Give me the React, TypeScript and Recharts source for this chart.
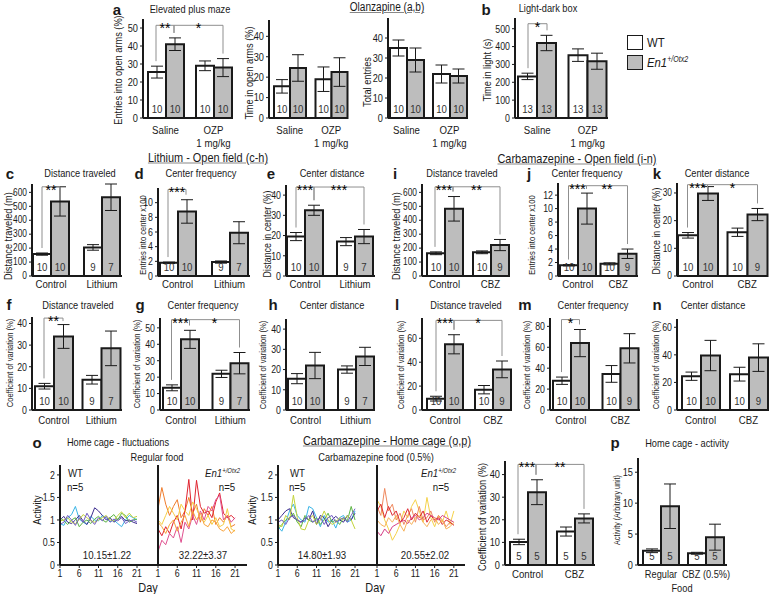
import React from "react";
import { Bar, BarChart, ErrorBar, LabelList, Line, LineChart, XAxis, YAxis } from "recharts";

const SANS = '"Liberation Sans", Arial, sans-serif';
const SQ = 0.84; // horizontal squeeze to mimic the condensed face of the original
const INK = "#1a1a1a";
const GREY = "#bdbdbd";
const BRACKET = "#8f8f8f";

// categories
const ozpCats = ["Saline", "OZP\n1 mg/kg"];
const liCats = ["Control", "Lithium"];
const cbzCats = ["Control", "CBZ"];
const foodCats = ["Regular", "CBZ (0.5%)"];

// bar values, order: [control WT, control En1, treated WT, treated En1]
const epmEntries = [25.5, 41, 29, 28];
const epmEntriesSem = [3.3, 3.5, 2.7, 5];
const epmTime = [15.5, 24.5, 19, 22.5];
const epmTimeSem = [3.3, 6.5, 6, 7];
const epmTotal = [35, 29, 22, 21];
const epmTotalSem = [4, 6, 4.5, 3.5];
const epmN = [10, 10, 10, 10];
const ldbLight = [233, 420, 352, 318];
const ldbLightSem = [18, 43, 35, 45];
const ldbN = [13, 13, 13, 13];

const liDist = [157, 535, 205, 565];
const liDistSem = [8, 105, 20, 95];
const liFreq = [1.8, 8.8, 1.9, 5.9];
const liFreqSem = [0.1, 1.6, 0.15, 1.5];
const liCenter = [19.5, 32.5, 17, 19.5];
const liCenterSem = [2, 2.5, 2, 3.5];
const liDistCv = [11, 34, 14, 28.5];
const liDistCvSem = [1.3, 5.5, 2, 8];
const liFreqCv = [13.5, 43, 22, 28.5];
const liFreqCvSem = [1.8, 5.5, 2.2, 6.5];
const liCenterCv = [15.5, 22, 20, 26.5];
const liCenterCvSem = [2.5, 6.5, 1.8, 4.5];
const liN = [10, 10, 9, 7];

const cbzDist = [163, 482, 170, 222];
const cbzDistSem = [10, 88, 10, 40];
const cbzFreq = [1.6, 10, 1.8, 3.3];
const cbzFreqSem = [0.1, 2.3, 0.15, 0.7];
const cbzCenter = [14.7, 29.8, 15.8, 22.2];
const cbzCenterSem = [1, 2.5, 1.5, 2.2];
const cbzDistCv = [9.5, 55, 17, 34];
const cbzDistCvSem = [2, 8, 3.5, 7];
const cbzFreqCv = [28, 64, 34.5, 59];
const cbzFreqCvSem = [3.5, 13, 8, 14];
const cbzCenterCv = [24.5, 39.5, 26, 38];
const cbzCenterCvSem = [3, 11, 5, 10];
const cbzN = [10, 10, 10, 9];

const homeCv = [10.2, 32.2, 14.8, 20.6];
const homeCvSem = [1.2, 5.5, 2, 2];
const homeActivity = [2.3, 9.5, 1.9, 4.5];
const homeActivitySem = [0.3, 3.6, 0.15, 2.1];
const homeN = [5, 5, 5, 5];

// tick labels
const t50 = [0, 10, 20, 30, 40, 50];
const t40 = [0, 10, 20, 30, 40];
const t30 = [0, 10, 20, 30];
const t500 = [0, 100, 200, 300, 400, 500];
const t600 = [0, 100, 200, 300, 400, 500, 600];
const t10 = [0, 2, 4, 6, 8, 10];
const t12 = [0, 2, 4, 6, 8, 10, 12];
const t60 = [0, 20, 40, 60];
const t80 = [0, 20, 40, 60, 80];
const t15 = [0, 5, 10, 15];
const dayTicks = [1, 6, 11, 16, 21];
const activityTicks = [0, 0.5, 1, 1.5, 2];

// home cage daily activity, 5 mice per group
const days = [1, 2, 3, 4, 5, 6, 7, 8, 9, 10, 11, 12, 13, 14, 15, 16, 17, 18, 19, 20, 21];
const regularWt = [
  [0.92, 0.88, 1.05, 1.12, 1.3, 1.02, 0.95, 0.9, 1.08, 1.0, 0.98, 1.1, 1.05, 0.96, 1.0, 0.92, 0.85, 1.0, 1.1, 1.05, 1.0],
  [1.0, 1.08, 0.95, 0.92, 1.0, 1.1, 0.98, 0.9, 1.05, 1.27, 1.2, 1.1, 1.0, 1.05, 0.95, 1.02, 1.08, 0.98, 1.0, 0.95, 0.92],
  [1.05, 0.98, 0.9, 1.0, 1.05, 0.85, 0.95, 1.0, 0.92, 1.02, 1.08, 1.0, 0.95, 1.05, 1.12, 1.0, 1.15, 1.1, 0.95, 1.0, 1.02],
  [0.98, 1.0, 1.05, 0.95, 0.92, 1.0, 1.12, 1.05, 0.98, 0.95, 1.0, 1.05, 1.1, 1.0, 0.98, 1.1, 1.18, 1.05, 1.15, 1.05, 1.08],
  [0.9, 0.95, 1.1, 1.0, 0.88, 1.05, 0.95, 1.15, 1.0, 0.9, 1.05, 0.98, 1.08, 0.95, 1.02, 0.98, 1.05, 0.92, 0.98, 1.0, 0.95],
];
const regularEn1 = [
  [1.25, 1.72, 1.35, 1.1, 1.3, 1.45, 1.05, 1.2, 1.5, 1.15, 1.35, 0.95, 1.25, 1.1, 1.3, 0.9, 1.05, 0.95, 1.1, 0.85, 0.9],
  [0.8, 0.65, 0.85, 0.7, 0.95, 1.1, 0.8, 1.2, 1.9, 1.0, 1.88, 1.3, 1.15, 1.2, 1.05, 1.4, 1.6, 1.15, 1.05, 1.1, 1.02],
  [1.0, 0.9, 1.1, 1.3, 1.15, 1.0, 1.35, 1.2, 1.1, 1.4, 1.25, 1.05, 0.95, 1.1, 0.9, 1.05, 0.85, 0.9, 1.25, 0.8, 0.75],
  [0.3, 0.55, 0.45, 0.7, 0.6, 0.85, 0.5, 0.95, 0.8, 1.1, 0.9, 1.2, 1.0, 1.3, 1.2, 1.45, 1.55, 1.0, 1.1, 0.95, 1.05],
  [0.95, 0.85, 0.7, 0.9, 1.0, 0.75, 0.95, 1.1, 0.85, 1.2, 1.0, 1.15, 0.9, 0.85, 1.0, 0.95, 0.8, 0.75, 0.85, 0.7, 0.78],
];
const cbzWt = [
  [0.85, 0.75, 0.95, 1.2, 1.35, 1.1, 1.0, 0.95, 1.3, 1.25, 1.05, 0.85, 1.1, 0.95, 1.0, 0.82, 1.05, 1.1, 0.95, 1.0, 1.2],
  [1.0, 1.1, 1.2, 1.25, 1.05, 1.0, 0.95, 1.05, 1.0, 1.2, 0.9, 1.1, 1.05, 0.85, 1.0, 1.08, 1.0, 0.95, 1.1, 1.0, 1.15],
  [0.8, 0.9, 1.0, 1.05, 1.15, 0.95, 0.85, 1.1, 1.0, 0.95, 1.05, 0.9, 1.0, 1.15, 0.95, 1.0, 0.9, 1.05, 0.98, 1.3, 1.0],
  [0.9, 0.85, 1.1, 1.0, 1.55, 1.05, 0.8, 0.78, 1.0, 1.1, 0.9, 1.0, 1.2, 1.0, 0.9, 0.95, 1.05, 1.0, 1.1, 1.0, 0.8],
  [0.95, 1.0, 0.9, 1.05, 1.1, 1.0, 0.95, 1.0, 1.1, 0.95, 1.0, 1.05, 0.9, 1.05, 1.1, 0.95, 1.0, 1.05, 0.95, 1.1, 1.25],
];
const cbzEn1 = [
  [1.45, 1.3, 1.0, 0.8, 0.55, 0.7, 0.9, 1.2, 1.05, 1.3, 1.45, 1.2, 0.95, 1.5, 1.05, 0.85, 1.1, 0.95, 1.2, 0.9, 1.2],
  [1.3, 1.1, 1.7, 1.2, 1.35, 1.0, 1.15, 0.9, 1.1, 1.25, 0.95, 1.3, 1.0, 1.05, 1.2, 0.95, 1.1, 1.0, 0.85, 0.95, 0.9],
  [1.2, 1.35, 1.05, 1.3, 1.1, 1.2, 0.95, 1.05, 1.25, 1.0, 1.15, 1.05, 1.2, 0.95, 1.1, 1.0, 1.05, 0.9, 1.0, 0.95, 0.88],
  [0.75, 0.65, 0.8, 0.7, 0.85, 0.9, 0.95, 1.0, 0.92, 1.05, 1.1, 1.0, 1.05, 1.15, 1.1, 1.05, 1.0, 1.1, 1.05, 1.0, 0.95],
  [1.0, 0.9, 0.85, 1.05, 0.95, 1.1, 0.9, 0.75, 1.0, 0.9, 1.05, 1.1, 0.95, 0.85, 1.0, 1.05, 0.9, 1.0, 0.8, 0.85, 0.95],
];
const wtColors = ["#38b4e6", "#3d2d8f", "#5db546", "#c3d43b", "#6f5ac2"];
const en1Colors = ["#f07c2c", "#e0232f", "#f5cf45", "#e0508f", "#f9a43c"];
const cbzEn1Colors = ["#f5d24a", "#ef8a60", "#dd2a35", "#d63d86", "#f7b25a"];

type Sig = { from: number; to: number; text: string };
type Spec = {
  cats: string[];
  means: number[];
  sem: number[];
  ns: number[];
  ticks: number[];
  max: number;
  x0: number;
  x1: number;
  top: number;
  base: number;
  barL: number;
  barR: number;
  gap: number;
  sig?: Sig[];
  sigAt?: number;
  tickFont: number;
  catDy: number;
  catFont?: number;
};

function catTick(dy: number, size: number) {
  return (props: any) => {
    const lines = String(props.payload?.value ?? "").split("\n");
    return (
      <g>
        {lines.map((line, i) => (
          <text key={i} transform={`translate(${props.x},${props.y + dy + i * (size + 1)}) scale(${SQ},1)`}
            textAnchor="middle" dominantBaseline="central" fontSize={size} fontFamily={SANS} fill={INK}>
            {line}
          </text>
        ))}
      </g>
    );
  };
}

function numTick(size: number) {
  return (props: any) => (
    <text transform={`translate(${props.x},${props.y}) scale(${SQ},1)`} textAnchor="end"
      dominantBaseline="central" fontSize={size} fontFamily={SANS} fill={INK}>
      {props.payload?.value}
    </text>
  );
}

function dayTick(props: any) {
  return (
    <text transform={`translate(${props.x},${props.y}) scale(${SQ},1)`} textAnchor="middle" dy="0.8em"
      fontSize={10.5} fontFamily={SANS} fill={INK}>
      {props.payload?.value}
    </text>
  );
}

function BarPanel({ s }: { s: Spec }) {
  const yw = 30;
  const mt = 14;
  const mr = 24;
  const xh = 34;
  const half = s.gap / 2;
  const rows = s.cats.map((cat, i) => ({
    cat,
    wt: s.means[2 * i],
    en: s.means[2 * i + 1],
    wtSem: s.sem[2 * i],
    enSem: s.sem[2 * i + 1],
    wtN: s.ns[2 * i],
    enN: s.ns[2 * i + 1],
  }));

  const nLabel = (props: any) => {
    const vb = props.viewBox ?? props;
    return (
      <text transform={`translate(${vb.x + vb.width / 2},${vb.y + vb.height - 9}) scale(${SQ},1)`}
        textAnchor="middle" dominantBaseline="central" fontSize={11.5} fontFamily={SANS} fill="#333">
        {props.value}
      </text>
    );
  };

  // brackets are drawn from the treated En1 bar, using its own geometry for the scale
  const sigLabel = (props: any) => {
    if (!s.sig || props.index !== 1) return null;
    const vb = props.viewBox ?? props;
    const w = vb.width;
    const base = vb.y + vb.height;
    const ppu = vb.height / s.means[3];
    const band = 2 * w + s.gap;
    const c3 = vb.x + w / 2;
    const cx = [c3 - band - w, c3 - band, c3 - w, c3];
    const py = (v: number) => base - v * ppu;
    const ly = py(s.sigAt ?? s.max);
    const drop = (i: number) => Math.max(ly + 3, py(s.means[i] + s.sem[i]) - 5);
    return (
      <g>
        {s.sig.map((g, k) => (
          <g key={k}>
            <path d={`M${cx[g.from]},${drop(g.from)}V${ly}H${cx[g.to]}V${drop(g.to)}`} fill="none"
              stroke={BRACKET} strokeWidth={1} />
            <text x={(cx[g.from] + cx[g.to]) / 2} y={ly + 8} textAnchor="middle" fontSize={14}
              fontFamily={SANS} fill="#000">
              {g.text}
            </text>
          </g>
        ))}
      </g>
    );
  };

  return (
    <div style={{ position: "absolute", left: s.x0 - yw, top: s.top - mt }}>
      <BarChart width={yw + s.x1 - s.x0 + mr} height={mt + s.base - s.top + xh} data={rows}
        margin={{ top: mt, right: mr, bottom: 0, left: 0 }} barGap={0} barCategoryGap={half}>
        <XAxis dataKey="cat" height={xh} padding={{ left: s.barL - half - s.x0, right: s.x1 - s.barR - half }}
          axisLine={{ stroke: INK, strokeWidth: 2 }} tickLine={false} tickSize={0} tickMargin={0} interval={0}
          tick={catTick(s.catDy, s.catFont ?? 11.5)} />
        <YAxis width={yw} type="number" domain={[0, s.max]} ticks={s.ticks} interval={0}
          axisLine={{ stroke: INK, strokeWidth: 2 }} tickLine={{ stroke: INK }} tickSize={3} tickMargin={2}
          tick={numTick(s.tickFont)} />
        <Bar dataKey="wt" fill="#fff" stroke={INK} strokeWidth={2} isAnimationActive={false}>
          <ErrorBar dataKey="wtSem" width={6} stroke={INK} strokeWidth={1} />
          <LabelList dataKey="wtN" content={nLabel} />
        </Bar>
        <Bar dataKey="en" fill={GREY} stroke={INK} strokeWidth={2} isAnimationActive={false}>
          <ErrorBar dataKey="enSem" width={6} stroke={INK} strokeWidth={1} />
          <LabelList dataKey="enN" content={nLabel} />
          <LabelList dataKey="en" content={sigLabel} />
        </Bar>
      </BarChart>
    </div>
  );
}

function TracePanel({ x0, width, end, series, colors, labels }: {
  x0: number; width: number; end: number; series: number[][]; colors: string[]; labels: boolean;
}) {
  const yw = 24;
  const mt = 6;
  const xh = 24;
  const top = 465;
  const base = 565;
  const rows = days.map((day, i) => {
    const r: Record<string, number> = { day };
    series.forEach((sv, k) => (r["s" + k] = sv[i]));
    return r;
  });
  return (
    <div style={{ position: "absolute", left: x0 - yw, top: top - mt }}>
      <LineChart width={yw + width} height={mt + base - top + xh} data={rows}
        margin={{ top: mt, right: 0, bottom: 0, left: 0 }}>
        <XAxis type="number" dataKey="day" domain={[1, end]} ticks={dayTicks} interval={0} height={xh}
          axisLine={{ stroke: INK, strokeWidth: 2 }} tickLine={{ stroke: INK }} tickSize={3} tickMargin={1}
          tick={dayTick} />
        <YAxis width={yw} type="number" domain={[0, 2.22]} ticks={activityTicks} interval={0}
          axisLine={{ stroke: INK, strokeWidth: 2 }} tickLine={labels ? { stroke: INK } : false} tickSize={3}
          tickMargin={2} tick={labels ? numTick(10.5) : false} />
        {series.map((_, k) => (
          <Line key={k} type="linear" dataKey={"s" + k} stroke={colors[k]} strokeWidth={1} dot={false}
            isAnimationActive={false} />
        ))}
      </LineChart>
    </div>
  );
}

function Txt({ x, y, size = 11, rot = 0, anchor = "middle", bold = false, under = false, squeeze = SQ, children }: {
  x: number; y: number; size?: number; rot?: number; anchor?: string; bold?: boolean; under?: boolean;
  squeeze?: number; children: React.ReactNode;
}) {
  const tx = anchor === "start" ? "0%" : anchor === "end" ? "-100%" : "-50%";
  const ox = anchor === "start" ? "0%" : anchor === "end" ? "100%" : "50%";
  return (
    <div style={{
      position: "absolute", left: x, top: y,
      transform: `translate(${tx}, -50%) rotate(${rot}deg) scaleX(${squeeze})`, transformOrigin: `${ox} 50%`,
      fontSize: size, fontFamily: SANS, fontWeight: bold ? 700 : 400, whiteSpace: "nowrap", lineHeight: 1,
      color: INK, textDecoration: under ? "underline" : "none", textDecorationColor: "#888",
    }}>
      {children}
    </div>
  );
}

const En1 = () => (
  <span style={{ fontStyle: "italic" }}>
    En1<span style={{ fontSize: "0.62em", position: "relative", top: "-0.55em" }}>+/Otx2</span>
  </span>
);

const twoPair: Sig[] = [{ from: 0, to: 1, text: "***" }, { from: 1, to: 3, text: "**" }];

const panels: Spec[] = [
  { cats: ozpCats, means: epmEntries, sem: epmEntriesSem, ns: epmN, ticks: t50, max: 55, x0: 143, x1: 232, top: 19, base: 118, barL: 148, barR: 231, gap: 13, sig: [{ from: 0, to: 1, text: "**" }, { from: 1, to: 3, text: "*" }], sigAt: 51.5, tickFont: 11, catDy: 12 },
  { cats: ozpCats, means: epmTime, sem: epmTimeSem, ns: epmN, ticks: t40, max: 48, x0: 269, x1: 348, top: 20, base: 118, barL: 274, barR: 347, gap: 10, tickFont: 11, catDy: 12 },
  { cats: ozpCats, means: epmTotal, sem: epmTotalSem, ns: epmN, ticks: t40, max: 50, x0: 388, x1: 468, top: 18, base: 118, barL: 390, barR: 466, gap: 10, tickFont: 11, catDy: 12 },
  { cats: ozpCats, means: ldbLight, sem: ldbLightSem, ns: ldbN, ticks: t500, max: 560, x0: 515, x1: 608, top: 18, base: 118, barL: 518, barR: 607, gap: 12, sig: [{ from: 0, to: 1, text: "*" }], sigAt: 528, tickFont: 10.5, catDy: 12 },
  { cats: liCats, means: liDist, sem: liDistSem, ns: liN, ticks: t600, max: 660, x0: 32, x1: 122, top: 184, base: 276, barL: 33, barR: 120, gap: 15, sig: [{ from: 0, to: 1, text: "**" }], sigAt: 640, tickFont: 10, catDy: 8 },
  { cats: liCats, means: liFreq, sem: liFreqSem, ns: liN, ticks: t10, max: 12, x0: 158, x1: 250, top: 188, base: 276, barL: 160, barR: 247, gap: 17, sig: [{ from: 0, to: 1, text: "***" }], sigAt: 11.8, tickFont: 10.5, catDy: 8 },
  { cats: liCats, means: liCenter, sem: liCenterSem, ns: liN, ticks: t40, max: 45, x0: 286, x1: 375, top: 185, base: 276, barL: 287, barR: 373, gap: 14, sig: [{ from: 0, to: 1, text: "***" }, { from: 1, to: 3, text: "***" }], sigAt: 44, tickFont: 10.5, catDy: 8 },
  { cats: cbzCats, means: cbzDist, sem: cbzDistSem, ns: cbzN, ticks: t600, max: 660, x0: 422, x1: 510, top: 184, base: 276, barL: 427, barR: 508, gap: 11, sig: twoPair, sigAt: 640, tickFont: 10, catDy: 8 },
  { cats: cbzCats, means: cbzFreq, sem: cbzFreqSem, ns: cbzN, ticks: t12, max: 13.8, x0: 558, x1: 638, top: 183, base: 276, barL: 560, barR: 636, gap: 5, sig: twoPair, sigAt: 13.4, tickFont: 10.5, catDy: 8 },
  { cats: cbzCats, means: cbzCenter, sem: cbzCenterSem, ns: cbzN, ticks: t30, max: 33.6, x0: 677, x1: 768, top: 183, base: 276, barL: 678, barR: 767, gap: 10, sig: [{ from: 0, to: 1, text: "***" }, { from: 1, to: 3, text: "*" }], sigAt: 33, tickFont: 10, catDy: 8 },
  { cats: liCats, means: liDistCv, sem: liDistCvSem, ns: liN, ticks: t40, max: 43, x0: 32, x1: 122, top: 317, base: 410, barL: 35, barR: 120, gap: 10, sig: [{ from: 0, to: 1, text: "**" }], sigAt: 42.5, tickFont: 10.5, catDy: 10 },
  { cats: liCats, means: liFreqCv, sem: liFreqCvSem, ns: liN, ticks: t50, max: 56, x0: 160, x1: 250, top: 318, base: 410, barL: 163, barR: 248, gap: 14, sig: [{ from: 0, to: 1, text: "***" }, { from: 1, to: 3, text: "*" }], sigAt: 55, tickFont: 10.5, catDy: 10 },
  { cats: liCats, means: liCenterCv, sem: liCenterCvSem, ns: liN, ticks: t40, max: 45, x0: 286, x1: 375, top: 319, base: 410, barL: 288, barR: 373, gap: 15, tickFont: 10.5, catDy: 10 },
  { cats: cbzCats, means: cbzDistCv, sem: cbzDistCvSem, ns: cbzN, ticks: t60, max: 77, x0: 422, x1: 512, top: 318, base: 410, barL: 427, barR: 511, gap: 12, sig: [{ from: 0, to: 1, text: "***" }, { from: 1, to: 3, text: "*" }], sigAt: 75, tickFont: 10.5, catDy: 10 },
  { cats: cbzCats, means: cbzFreqCv, sem: cbzFreqCvSem, ns: cbzN, ticks: t80, max: 88, x0: 550, x1: 640, top: 318, base: 410, barL: 553, barR: 638, gap: 14, sig: [{ from: 0, to: 1, text: "*" }], sigAt: 86.5, tickFont: 10.5, catDy: 10 },
  { cats: cbzCats, means: cbzCenterCv, sem: cbzCenterCvSem, ns: cbzN, ticks: t60, max: 66, x0: 677, x1: 768, top: 319, base: 410, barL: 682, barR: 767, gap: 11, tickFont: 10.5, catDy: 10 },
  { cats: cbzCats, means: homeCv, sem: homeCvSem, ns: homeN, ticks: t40, max: 46, x0: 505, x1: 595, top: 461, base: 565, barL: 510, barR: 592, gap: 12, sig: twoPair, sigAt: 44.5, tickFont: 11, catDy: 9 },
  { cats: foodCats, means: homeActivity, sem: homeActivitySem, ns: homeN, ticks: t15, max: 17.3, x0: 638, x1: 727, top: 458, base: 565, barL: 643, barR: 724, gap: 9, tickFont: 11, catDy: 9, catFont: 11 },
];

const letters: [string, number, number][] = [
  ["a", 117, 9], ["b", 486, 9], ["c", 10, 173], ["d", 139, 173], ["e", 271, 173], ["i", 395, 173],
  ["j", 529, 173], ["k", 657, 173], ["f", 9, 304], ["g", 140, 304], ["h", 273, 304], ["l", 397, 304],
  ["m", 525, 304], ["n", 657, 304], ["o", 37, 442], ["p", 615, 442],
];

const titles: [string, number, number][] = [
  ["Elevated plus maze", 190, 9], ["Light-dark box", 548, 8],
  ["Distance traveled", 80, 173], ["Center frequency", 201, 173], ["Center distance", 332, 173],
  ["Distance traveled", 462, 173], ["Center frequency", 587, 173], ["Center distance", 717, 173],
  ["Distance traveled", 78, 305], ["Center frequency", 203, 305], ["Center distance", 332, 305],
  ["Distance traveled", 466, 305], ["Center frequency", 593, 305], ["Center distance", 713, 305],
  ["Home cage - fluctuations", 118, 442], ["Regular food", 157, 457], ["Carbamazepine food (0.5%)", 376, 457],
  ["Home cage - activity", 687, 443],
];

const yLabels: [string, number, number, number][] = [
  ["Entries into open arms (%)", 118, 70, 11], ["Time in open arms (%)", 249, 73, 11],
  ["Total entries", 367, 82, 11], ["Time in light (s)", 487, 70, 11],
  ["Distance traveled (m)", 8, 236, 11], ["Entries into center x100", 143, 235, 9],
  ["Distance in center (%)", 267, 234, 10.5], ["Distance traveled (m)", 396, 236, 11],
  ["Entries into center x100", 532, 235, 9], ["Distance in center (%)", 656, 231, 10.5],
  ["Coefficient of variation (%)", 10, 363, 9], ["Coefficient of variation (%)", 137, 364, 9],
  ["Coefficient of variation (%)", 263, 365, 9], ["Coefficient of variation (%)", 401, 365, 9],
  ["Coefficient of variation (%)", 527, 365, 9], ["Coefficient of variation (%)", 656, 365, 9],
  ["Activity", 37, 510, 11], ["Activity", 252, 510, 11],
  ["Coefficient of variation (%)", 482, 517, 11], ["Activity (Arbitrary unit)", 617, 510, 8.5],
];

export default function App() {
  return (
    <div style={{ position: "absolute", left: 0, top: 0, width: 773, height: 594, background: "#fff", overflow: "hidden", fontFamily: SANS }}>
      {panels.map((p, i) => (
        <BarPanel key={i} s={p} />
      ))}
      <TracePanel x0={60} width={98} end={26.45} series={regularWt} colors={wtColors} labels />
      <TracePanel x0={158} width={89} end={24.1} series={regularEn1} colors={en1Colors} labels={false} />
      <TracePanel x0={278} width={99} end={26.7} series={cbzWt} colors={wtColors} labels />
      <TracePanel x0={377} width={88} end={23.9} series={cbzEn1} colors={cbzEn1Colors} labels={false} />

      {letters.map(([t, x, y], i) => (
        <Txt key={"l" + i} x={x} y={y} size={15} bold squeeze={1}>{t}</Txt>
      ))}
      {titles.map(([t, x, y], i) => (
        <Txt key={"t" + i} x={x} y={y} size={11}>{t}</Txt>
      ))}
      {yLabels.map(([t, x, y, sz], i) => (
        <Txt key={"y" + i} x={x} y={y} size={sz} rot={-90}>{t}</Txt>
      ))}

      <Txt x={387} y={7} size={12} under>Olanzapine (a,b)</Txt>
      <Txt x={208} y={157} size={13} under>Lithium - Open field (c-h)</Txt>
      <Txt x={577} y={158} size={13} under>Carbamazepine - Open field (i-n)</Txt>
      <Txt x={387} y={440} size={13} under>Carbamazepine - Home cage (o,p)</Txt>

      <div style={{ position: "absolute", left: 627, top: 35, width: 14, height: 13, border: `1.5px solid ${INK}`, background: "#fff" }} />
      <div style={{ position: "absolute", left: 627, top: 55, width: 14, height: 13, border: `1.5px solid ${INK}`, background: GREY }} />
      <Txt x={647} y={43} size={13.5} anchor="start">WT</Txt>
      <Txt x={647} y={63} size={13.5} anchor="start"><En1 /></Txt>

      <Txt x={68} y={474} size={11.5} anchor="start">WT</Txt>
      <Txt x={67} y={488} size={11.5} anchor="start">n=5</Txt>
      <Txt x={240} y={474} size={11.5} anchor="end"><En1 /></Txt>
      <Txt x={227} y={488} size={11.5}>n=5</Txt>
      <Txt x={290} y={474} size={11.5} anchor="start">WT</Txt>
      <Txt x={289} y={488} size={11.5} anchor="start">n=5</Txt>
      <Txt x={456} y={474} size={11.5} anchor="end"><En1 /></Txt>
      <Txt x={441} y={488} size={11.5}>n=5</Txt>

      <Txt x={107} y={556} size={11.5}>10.15±1.22</Txt>
      <Txt x={203} y={556} size={11.5}>32.22±3.37</Txt>
      <Txt x={322} y={556} size={11.5}>14.80±1.93</Txt>
      <Txt x={425} y={556} size={11.5}>20.55±2.02</Txt>
      <Txt x={148} y={587} size={13}>Day</Txt>
      <Txt x={375} y={587} size={13}>Day</Txt>
      <Txt x={682} y={588} size={11}>Food</Txt>
    </div>
  );
}
